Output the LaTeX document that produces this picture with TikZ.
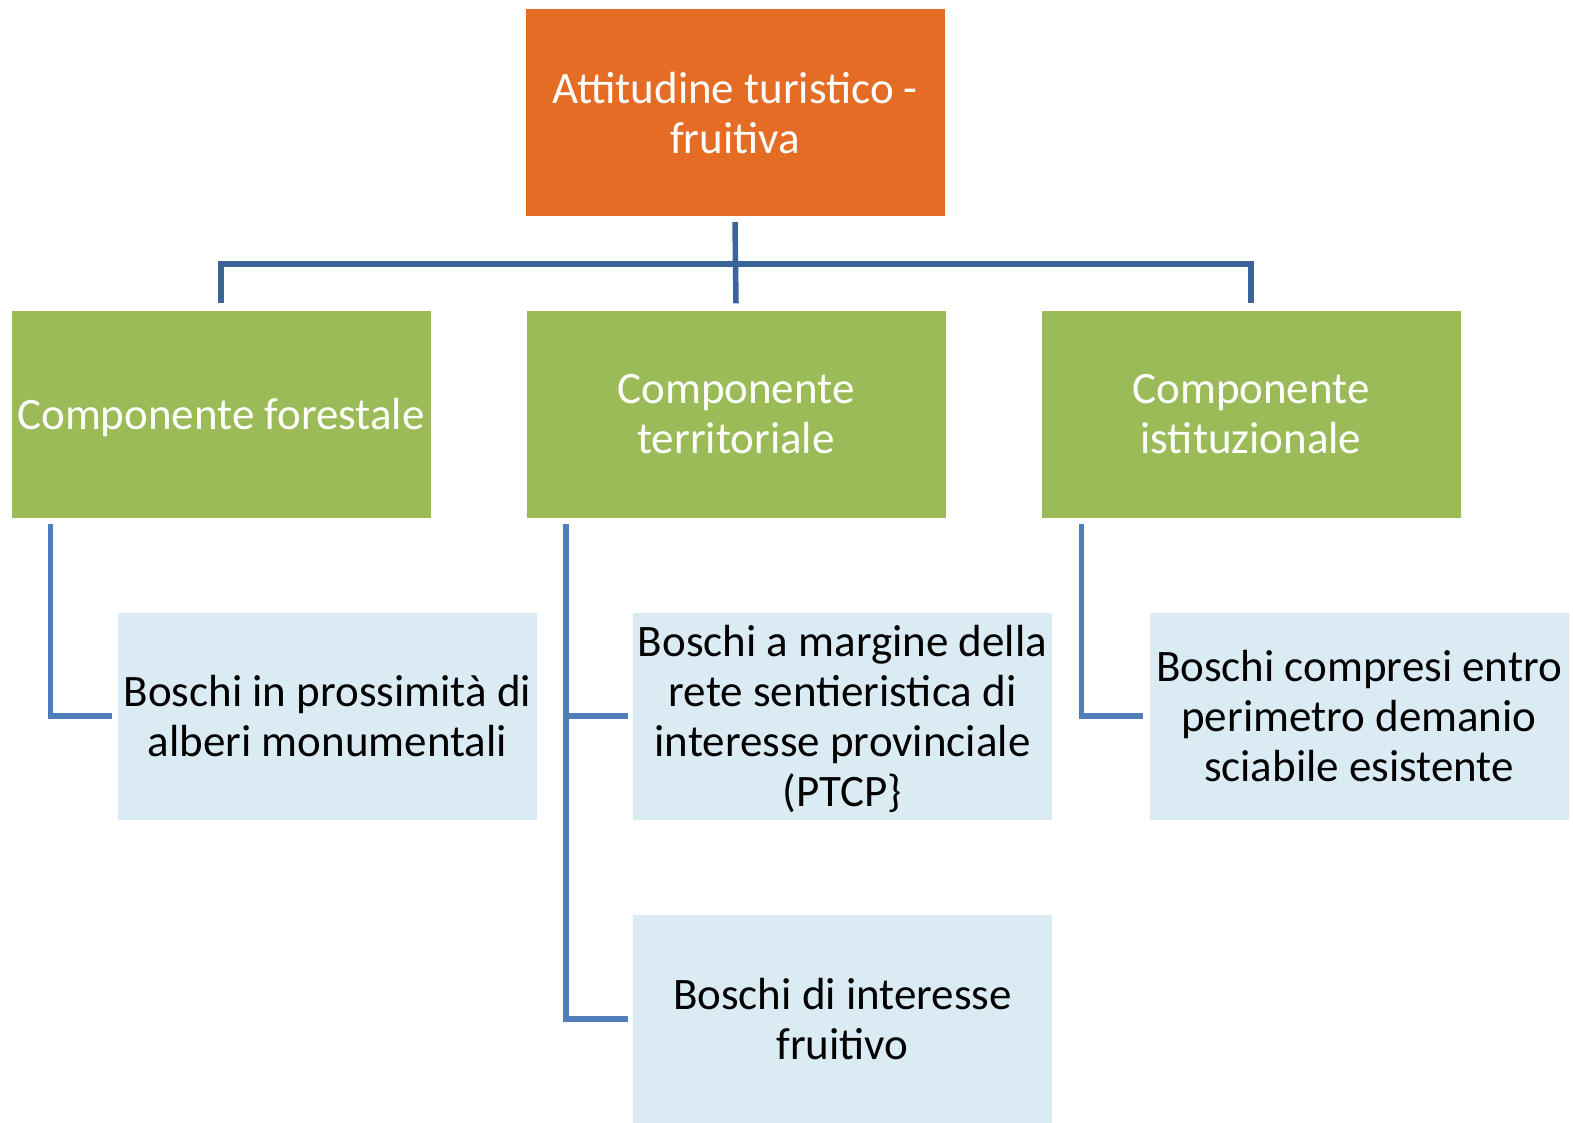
\documentclass[tikz,border=0pt]{standalone}
\usepackage{fontspec}
\setmainfont{Carlito}
\definecolor{topor}{HTML}{E46C24}
\definecolor{grn}{HTML}{9BBB59}
\definecolor{lblue}{HTML}{DBEBF4}
\definecolor{linea}{HTML}{4F7EBA}
\definecolor{lineb}{HTML}{3B6499}
\begin{document}
\begin{tikzpicture}[x=1pt,y=-1pt,
  box/.style={rectangle, inner sep=0pt, minimum width=419pt, minimum height=207pt, align=center, font=\fontsize{45}{50}\selectfont, text depth=0pt},
  topbox/.style={box, fill=topor, text=white},
  midbox/.style={box, fill=grn, text=white},
  leafbox/.style={box, fill=lblue, text=black},
  conn/.style={draw=linea, line width=5.5pt},
  conntop/.style={draw=lineb, line width=5.5pt}]
\useasboundingbox (0,0) rectangle (1573,1123);
\node[topbox] (top) at (735,112.5) {Attitudine turistico -\\fruitiva};
\node[midbox] (g1) at (221,414) {Componente forestale};
\node[midbox] (g2) at (736,414) {Componente\\territoriale};
\node[midbox] (g3) at (1251,414) {Componente\\istituzionale};
\node[leafbox] (b1) at (327.5,716) {Boschi in prossimità di\\alberi monumentali};
\node[leafbox] (b2) at (842.5,716) {Boschi a margine della\\rete sentieristica di\\interesse provinciale\\(PTCP\}};
\node[leafbox, minimum height=208pt] (b4) at (842.5,1019) {Boschi di interesse\\fruitivo};
\node[leafbox] (b3) at (1359,716) {Boschi compresi entro\\perimetro demanio\\sciabile esistente};
% top connectors
\coordinate (hub) at (736,264);
\draw[conntop] ([yshift=-6pt]top.south) -- ([yshift=7pt]g2.north);
\draw[conntop] ([yshift=7pt]g1.north) |- (hub) -| ([yshift=7pt]g3.north);
% lower connectors
\draw[conn] ([xshift=-170.5pt,yshift=-6pt]g1.south) |- ([xshift=-6pt]b1.west);
\draw[conn] ([xshift=-170pt,yshift=-6pt]g2.south) |- ([xshift=-5pt]b4.west);
\draw[conn] ([xshift=-170pt]g2.south |- b2.west) -- ([xshift=-5pt]b2.west);
\draw[conn] ([xshift=-169.5pt,yshift=-6pt]g3.south) |- ([xshift=-6pt]b3.west);
\end{tikzpicture}
\end{document}
